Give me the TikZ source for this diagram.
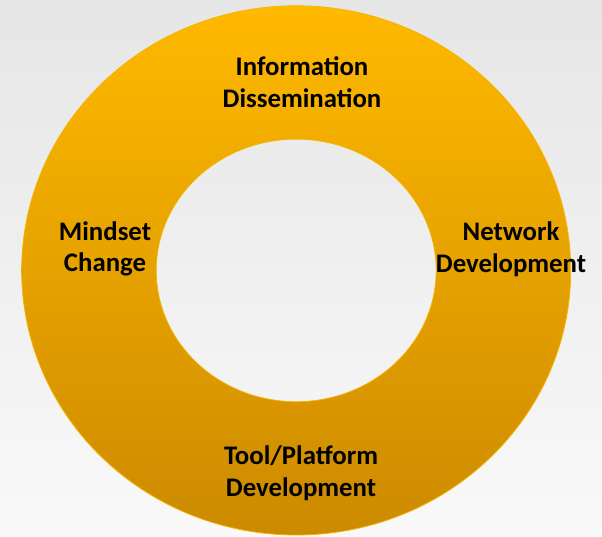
\documentclass[tikz,border=0pt]{standalone}
\usepackage{fontspec}
\setmainfont{Carlito}
\usetikzlibrary{positioning}
\definecolor{ringtop}{HTML}{FFB900}
\definecolor{ringbot}{HTML}{CC8A00}
\definecolor{ringedge}{HTML}{F4B400}
\definecolor{bgtop}{HTML}{E6E6E6}
\definecolor{bgbot}{HTML}{F9F9F9}
\tikzset{
  label text/.style={font=\bfseries\fontsize{26.8}{31.5}\selectfont, align=center, text=black},
}

\begin{document}
\begin{tikzpicture}[x=1pt, y=-1pt]
      \shade[top color=bgtop, bottom color=bgbot] (0,0) rectangle (602,536);
      \useasboundingbox (0,0) rectangle (602,536);
      \coordinate (O) at (296.2,270.4);
      % ring
      \shade[top color=ringtop, bottom color=ringbot, even odd rule]
            (O) ellipse [x radius=274.5, y radius=264.6]
            (O) ellipse [x radius=140, y radius=131.3];
      \draw[ringedge, line width=0.8] (O) ellipse [x radius=274.5, y radius=264.6];
      \draw[ringedge, line width=0.8] (O) ellipse [x radius=140, y radius=131.3];
      % labels
      \node[label text] (info) at (302,82) {Information\\Dissemination};
      \node[label text] (mind) at (105,249) {Mindset\\Change};
      \node[label text] (net) at (511,249) {Network\\Development};
      \node[label text] (tool) at (301,473) {Tool/Platform\\Development};
\end{tikzpicture}
\end{document}
